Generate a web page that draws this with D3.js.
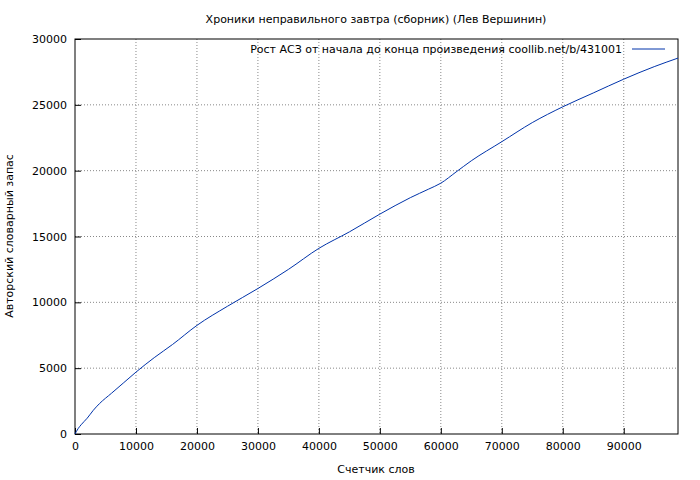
<!DOCTYPE html>
<html><head><meta charset="utf-8">
<script src="https://cdn.jsdelivr.net/npm/d3@7"></script>
<style>body{margin:0;background:#fff}text{font-family:"DejaVu Sans",sans-serif;font-size:11px;fill:#000}</style>
</head><body><svg id="c" width="700" height="480"></svg>
<script>
const words = [0, 500, 1000, 2000, 3000, 4000, 6000, 8000, 10000, 13000, 16000, 20000, 25000, 30000, 35000, 40000, 45000, 50000, 55000, 58000, 60000, 62500, 65000, 70000, 75000, 80000, 85000, 90000, 95000, 98900];
const vocab = [0, 400, 700, 1200, 1800, 2300, 3100, 3900, 4700, 5800, 6800, 8250, 9700, 11050, 12500, 14100, 15350, 16700, 17950, 18600, 19050, 19900, 20750, 22200, 23650, 24850, 25900, 26950, 27900, 28550];
const xTicks = [0, 10000, 20000, 30000, 40000, 50000, 60000, 70000, 80000, 90000];
const yTicks = [0, 5000, 10000, 15000, 20000, 25000, 30000];

const m = {l: 75, r: 678, t: 39, b: 434};
const svg = d3.select("#c");
const x = d3.scaleLinear().domain([0, 98900]).range([m.l, m.r]);
const y = d3.scaleLinear().domain([0, 30000]).range([m.b, m.t]);

// сетка
svg.append("g").selectAll("line").data(xTicks.slice(1)).join("line")
  .attr("x1", d => x(d)).attr("x2", d => x(d)).attr("y1", m.t).attr("y2", m.b)
  .attr("stroke", "#888").attr("stroke-dasharray", "1,2");
svg.append("g").selectAll("line").data(yTicks.slice(1, -1)).join("line")
  .attr("x1", m.l).attr("x2", m.r).attr("y1", d => y(d)).attr("y2", d => y(d))
  .attr("stroke", "#888").attr("stroke-dasharray", "1,2");

const ax = svg.append("g").attr("transform", `translate(0,${m.b})`)
  .call(d3.axisBottom(x).tickValues(xTicks).tickFormat(d3.format("d")).tickSizeInner(-6).tickSizeOuter(0).tickPadding(8));
const ay = svg.append("g").attr("transform", `translate(${m.l},0)`)
  .call(d3.axisLeft(y).tickValues(yTicks).tickFormat(d3.format("d")).tickSizeInner(-6).tickSizeOuter(0).tickPadding(8));
[ax, ay].forEach(a => { a.select(".domain").remove(); a.selectAll("text").style("font-family", "DejaVu Sans").style("font-size", "11px"); });

svg.append("rect").attr("x", m.l).attr("y", m.t).attr("width", m.r - m.l).attr("height", m.b - m.t)
  .attr("fill", "none").attr("stroke", "#000");

svg.append("path").datum(words.map((w, i) => [w, vocab[i]]))
  .attr("fill", "none").attr("stroke", "#0033aa").attr("stroke-width", 1)
  .attr("d", d3.line().x(d => x(d[0])).y(d => y(d[1])).curve(d3.curveMonotoneX));

svg.append("text").attr("x", 376).attr("y", 23).attr("text-anchor", "middle")
  .text("Хроники неправильного завтра (сборник) (Лев Вершинин)");
svg.append("text").attr("x", 376).attr("y", 473).attr("text-anchor", "middle").text("Счетчик слов");
svg.append("text").attr("transform", "translate(13,236) rotate(-90)").attr("text-anchor", "middle")
  .text("Авторский словарный запас");
svg.append("text").attr("x", 622).attr("y", 53).attr("text-anchor", "end")
  .text("Рост АСЗ от начала до конца произведения coollib.net/b/431001");
svg.append("line").attr("x1", 632).attr("x2", 665).attr("y1", 49).attr("y2", 49).attr("stroke", "#0033aa");
</script></body></html>
